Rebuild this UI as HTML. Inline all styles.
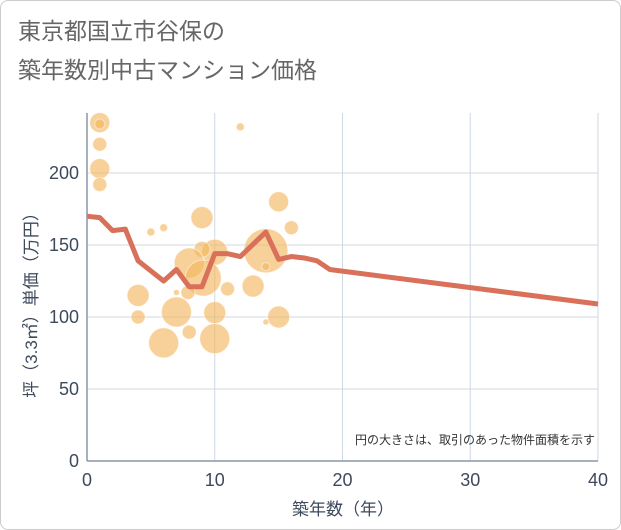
<!DOCTYPE html>
<html><head><meta charset="utf-8"><style>
body{margin:0;background:#fff;font-family:"Liberation Sans","Noto Sans CJK JP",sans-serif}
#c{position:relative;width:619px;height:528px;border:1px solid #ccc;border-radius:8px;overflow:hidden}
</style></head><body>
<div id="c">
<svg id="s" width="619" height="528" xmlns="http://www.w3.org/2000/svg">
<text x="17" y="38" font-size="23" fill="#666">東京都国立市谷保の</text>
<text x="17" y="77" font-size="23" fill="#666">築年数別中古マンション価格</text>
<g id="grid"></g><g id="bub"></g><g id="ln"></g><g id="ax"></g>
<text x="594" y="443" font-size="12" fill="#333" text-anchor="end">円の大きさは、取引のあった物件面積を示す</text>
<text x="342" y="514" font-size="17" fill="#3d4a5c" text-anchor="middle">築年数（年）</text>
<text transform="translate(36,300) rotate(-90)" font-size="17" fill="#3d4a5c" text-anchor="middle">坪（3.3㎡）単価（万円）</text>
</svg></div>
<script>
const xTicks=[0,10,20,30,40];
const yTicks=[0,50,100,150,200];
const bubX=[1,1,1,1,1,12,9,15,16,5,6,10,9,14,14,8,9.1,13,11,7,7.9,4,4,7,10,15,14,8,6,10];
const bubY=[235,234,220,203,192,232,169,180,162,159,162,145,147,146,135,137.5,127,121.5,119.5,117,117,115,100,103.5,103,100,96.5,89.5,82,85];
const bubR=[10,5,7,10,7,4,11,10,7,4,4,13,8,22,4,15,18,11,7,3,7,11,7,15,11,11,3,7,15,15];
const lineX=[0,1,2,3,4,5,6,7,8,9,10,11,12,14,15,16,17,18,19,40];
const lineY=[170,169,160,161,139,132,125,133,121,121,144,144,142,159,140,142,141,139,133,109];
const NS="http://www.w3.org/2000/svg";
const X=v=>86+v*12.775, Y=v=>460-v*1.44;
function mk(t,a,p){const e=document.createElementNS(NS,t);for(const k in a)e.setAttribute(k,a[k]);p.appendChild(e);return e;}
const g=document.getElementById('grid'),ax=document.getElementById('ax');
xTicks.forEach(t=>{const l=mk('line',{x1:X(t),x2:X(t),y1:112,y2:460,stroke:'#d0d8e2'},g);

const tx=mk('text',{x:X(t),y:485,'font-size':18,fill:'#3d4a5c','text-anchor':'middle'},ax);tx.textContent=t;
});
yTicks.forEach(t=>{const l=mk('line',{x1:86,x2:597,y1:Y(t),y2:Y(t),stroke:'#d0d8e2'},g);

const tx=mk('text',{x:78,y:Y(t)+6,'font-size':18,fill:'#3d4a5c','text-anchor':'end'},ax);tx.textContent=t;
});
const a1=mk('line',{x1:86,x2:86,y1:112,y2:460,stroke:'#8a96a6','stroke-width':1.5},ax);

const a2=mk('line',{x1:86,x2:597,y1:460,y2:460,stroke:'#8a96a6','stroke-width':1.5},ax);

const b=document.getElementById('bub');
bubX.forEach((v,i)=>{const c=mk('circle',{cx:X(v),cy:Y(bubY[i]),r:bubR[i],fill:'rgba(242,180,90,0.62)',stroke:'rgba(255,255,255,0.5)','stroke-width':1},b);
});
const p=mk('polyline',{points:lineX.map((v,i)=>X(v)+','+Y(lineY[i])).join(' '),fill:'none',stroke:'#d9705a','stroke-width':5,'stroke-linejoin':'round'},document.getElementById('ln'));

</script></body></html>
